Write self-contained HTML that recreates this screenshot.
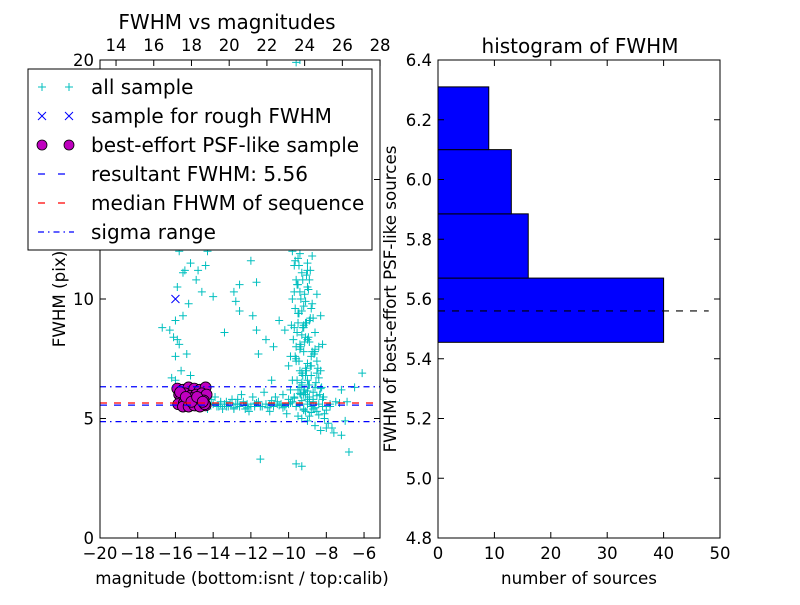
<!DOCTYPE html>
<html><head><meta charset="utf-8"><style>
body{margin:0;background:#fff}
svg text{font-family:"DejaVu Sans","Liberation Sans",sans-serif;fill:#000}
</style></head><body>
<svg id="c" width="800" height="600" xmlns="http://www.w3.org/2000/svg"></svg>
<script>
const allMag=[-14.0,-13.8,-13.6,-13.4,-13.2,-13.0,-12.8,-12.6,-12.4,-12.2,-12.0,-11.8,-11.6,-11.4,-11.2,-11.0,-10.8,-10.6,-10.4,-10.2,-10.0,-9.8,-9.6,-9.4,-9.2,-9.0,-8.8,-13.9,-12.5,-11.9,-11.3,-10.7,-10.3,-9.9,-13.5,-12.1,-11.0,-10.1,-9.5,-9.3,-9.0,-8.6,-8.3,-8.0,-7.6,-7.2,-6.8,-11.5,-9.6,-9.3,-7.0,-8.5,-8.2,-7.8,-6.1,-6.9,-14.3,-14.1,-13.7,-13.3,-12.9,-12.7,-12.3,
-9.5,-9.3,-9.1,-9.4,-9.0,-8.8,-9.2,-9.6,-8.9,-9.3,-9.7,-9.1,-8.7,-9.5,-9.2,-9.8,-9.4,-9.0,-9.6,-9.3,-9.7,-9.5,-9.8,-9.2,-8.6,-8.4,-8.3,-8.5,-8.7,-8.9,-9.8,-10.0,-9.9,-8.4,-8.2,-8.6,-8.8,-10.2,-10.5,-10.8,-11.2,-11.7,-10.9,-11.6,-9.0,-9.4,-8.5,-9.6,-9.4,-9.8,
-9.3,-9.1,-8.9,-9.6,-9.4,-9.0,-9.2,-9.5,-9.1,-9.7,-8.9,-9.4,-9.7,-9.0,-8.7,-8.6,-8.3,-8.1,-12.0,-11.7,-7.2,-6.5,
-9.2,-9.0,-8.8,-9.4,-9.1,-8.9,-9.3,-9.5,-9.0,-8.8,-9.6,-9.2,-8.7,-9.1,-9.3,
-16.3,-16.1,-15.9,-15.8,-16.0,-15.7,-16.2,-16.0,-15.2,-15.4,-16.7,-15.9,-15.6,-15.5,-15.2,-14.8,-14.4,-14.6,-14.9,-16.0,-14.3,-15.8,-13.4,-12.8,-12.6,-12.6,-12.9,-14.0,-11.9,-15.3,-15.6,
-9.35,-9.15,-8.95,-9.55,-9.25,-9.05,-8.85,-9.45,-9.65,-8.75,-9.35,-9.15,-8.95,-9.55,-9.25,-9.05,-8.85,-9.45,-9.65,-8.75,-9.35,-9.15,-8.95,-9.55,-9.25,-9.05,-8.85,-9.45,-9.65,-8.75,-8.55,-8.45,-8.65,-9.75,-9.85,-8.35,-8.25,-8.15,-8.5,-8.6,
-13.1,-12.9,-12.3,-11.7,-11.1,-10.5,-10.9,-10.3,-9.9,-11.5,-12.7,-13.3,-10.0,-9.7,-9.3,-8.9,-8.6,-8.4,-8.2,-8.0,-7.8,-7.5,-7.3,-9.1,-8.8,-8.4,-8.1,-7.9,-7.7,-10.6,-11.8,-12.2,-13.6,-8.9,-8.7,-9.2,-8.5,-9.4,-9.0,-8.3];
const allFwhm=[5.6,5.5,5.7,5.6,5.5,5.8,5.6,5.5,5.7,5.6,5.5,5.6,5.7,5.5,5.6,5.6,5.5,5.7,5.6,5.5,5.6,5.7,5.5,5.6,5.4,5.6,5.5,5.9,6.0,5.9,6.1,5.9,6.0,6.2,5.4,5.3,5.3,5.2,5.1,5.0,4.9,4.7,4.5,4.6,4.4,4.3,3.6,3.3,3.1,3.0,4.9,5.3,5.5,5.6,6.9,5.7,5.4,5.8,5.5,5.7,5.4,5.8,5.4,
6.2,6.5,6.8,7.0,7.3,7.6,7.8,8.0,8.2,8.5,8.8,9.0,9.2,9.4,9.7,10.0,10.3,10.5,10.8,11.1,11.4,11.7,12.0,6.0,6.3,6.7,7.0,7.4,6.1,5.9,6.6,7.2,7.6,8.0,8.1,8.6,9.6,8.7,9.1,8.0,8.3,8.7,6.6,7.7,11.2,11.9,10.2,19.9,20.0,12.5,
6.9,7.1,6.4,7.5,8.1,8.3,8.8,9.0,9.9,10.3,10.8,6.3,5.9,5.8,5.7,7.8,9.3,5.2,11.6,10.7,6.2,6.3,
6.1,6.6,7.2,7.9,8.4,9.1,9.5,10.6,11.5,6.8,7.4,8.9,5.8,6.0,6.4,
8.7,8.4,8.3,8.1,7.6,7.0,6.7,6.6,6.8,7.7,8.8,10.5,11.1,11.2,11.5,11.2,11.4,10.3,10.8,9.1,12.0,12.0,8.6,9.9,9.5,10.6,10.3,10.1,9.3,9.8,9.3,
6.0,6.2,6.4,6.6,6.8,7.0,7.2,7.4,7.6,7.8,8.0,8.2,8.4,8.6,8.8,9.0,9.2,9.4,9.6,9.8,10.0,10.2,10.4,10.6,10.8,11.0,11.2,11.4,11.6,11.8,6.5,7.1,7.7,8.3,8.9,6.0,6.3,5.9,6.9,7.9,
5.65,5.45,5.55,5.65,5.45,5.55,5.75,5.45,5.65,5.5,5.6,5.5,5.8,5.85,5.75,5.7,5.45,5.6,5.8,5.35,5.5,5.7,5.65,5.3,5.25,5.15,5.0,4.8,4.6,5.6,5.5,5.45,5.6,5.1,5.4,5.35,5.95,6.05,6.15,6.25];
const roughMag=[-16.0], roughFwhm=[10.0];
const psfMag=[-15.9,-15.6,-15.3,-15.0,-14.7,-14.4,-15.8,-15.5,-15.2,-14.9,-14.6,-14.35,-15.7,-15.4,-15.1,-14.8,-14.5,-15.85,-15.55,-15.25,-14.95,-14.65,-14.4,-15.6,-15.3,-15.0,-14.7,-14.45,-15.75,-15.45,-15.15,-14.85,-14.55];
const psfFwhm=[6.25,6.2,6.3,6.25,6.2,6.3,6.0,6.05,5.95,6.0,6.05,6.0,5.8,5.75,5.85,5.8,5.75,5.6,5.65,5.6,5.55,5.6,5.55,5.5,5.5,5.55,5.5,5.6,6.1,5.9,5.7,5.9,5.7];
const resultant=5.56, median=5.65, sigLo=4.87, sigHi=6.33;
const binEdges=[5.455,5.67,5.885,6.1,6.31];
const binCounts=[40,16,13,9];
const lxTicks=[-20,-18,-16,-14,-12,-10,-8,-6], lyTicks=[0,5,10,15,20];
const topTicks=[14,16,18,20,22,24,26,28];
const rxTicks=[0,10,20,30,40,50], ryTicks=[4.8,5.0,5.2,5.4,5.6,5.8,6.0,6.2,6.4];

const S=document.getElementById('c'),NS='http://www.w3.org/2000/svg';
function el(t,a,p){const e=document.createElementNS(NS,t);for(const k in a)e.setAttribute(k,a[k]);(p||S).appendChild(e);return e;}
function tx(s,a,p){const e=el('text',a,p);e.textContent=s;return e;}
const FS=16.5;
const lx=m=>100+(m+20)*18.86, ly=f=>538-f*23.9, tx2=c=>lx(c-33.15);
const gL=el('g',{});
const clip=el('clipPath',{id:'cl'});el('rect',{x:100,y:60,width:280,height:478},clip);
const pts=el('g',{'clip-path':'url(#cl)'},gL);
allMag.forEach((m,i)=>{const x=lx(m),y=ly(allFwhm[i]);const p=el('path',{d:`M${x-4},${y}h8M${x},${y-4}v8`,stroke:'#00bfbf','stroke-width':1},pts);});
roughMag.forEach((m,i)=>{const x=lx(m),y=ly(roughFwhm[i]);const p=el('path',{d:`M${x-4},${y-4}l8,8M${x+4},${y-4}l-8,8`,stroke:'#0000ff','stroke-width':1},pts);});
psfMag.forEach((m,i)=>{const c=el('circle',{cx:lx(m),cy:ly(psfFwhm[i]),r:5.5,fill:'#bf00bf',stroke:'#000','stroke-width':0.8},pts);});
function hl(v,col,dash,name){const l=el('line',{x1:100,x2:380,y1:ly(v),y2:ly(v),stroke:col,'stroke-width':1.3,'stroke-dasharray':dash},pts);}
hl(sigHi,'#0000ff','6,4,1.5,4','sigma-upper-line');hl(sigLo,'#0000ff','6,4,1.5,4','sigma-lower-line');
hl(median,'#ff0000','7,7','median-fwhm-line');hl(resultant,'#0000ff','7,7','resultant-fwhm-line');
el('rect',{x:100,y:60,width:280,height:478,fill:'none',stroke:'#000'},gL);
lxTicks.forEach(t=>{const x=lx(t);el('line',{x1:x,x2:x,y1:538,y2:532,stroke:'#000'},gL);const e=tx('\u2212'+Math.abs(t),{x:x,y:559,'font-size':FS,'text-anchor':'middle'},gL);});
topTicks.forEach(t=>{const x=tx2(t);el('line',{x1:x,x2:x,y1:60,y2:66,stroke:'#000'},gL);const e=tx(String(t),{x:x,y:51,'font-size':FS,'text-anchor':'middle'},gL);});
lyTicks.forEach(t=>{const y=ly(t);el('line',{x1:100,x2:106,y1:y,y2:y,stroke:'#000'},gL);el('line',{x1:374,x2:380,y1:y,y2:y,stroke:'#000'},gL);const e=tx(String(t),{x:94,y:y+6,'font-size':FS,'text-anchor':'end'},gL);});
let e=tx('FWHM vs magnitudes',{x:227,y:29,'font-size':20,'text-anchor':'middle'});
e=tx('magnitude (bottom:isnt / top:calib)',{x:242,y:584,'font-size':16.7,'text-anchor':'middle'});
e=tx('FWHM (pix)',{x:0,y:0,'font-size':16.7,'text-anchor':'middle',transform:'translate(65,299) rotate(-90)'});
const lg=el('g',{});
el('rect',{x:28,y:69,width:344,height:181,fill:'#fff',stroke:'#000'},lg);
const labels=['all sample','sample for rough FWHM','best-effort PSF-like sample','resultant FWHM: 5.56','median FHWM of sequence','sigma range'];
labels.forEach((s,i)=>{const y=87+i*29;const g=el('g',{},lg);
 if(i==0)[42,69].forEach(x=>el('path',{d:`M${x-4},${y}h8M${x},${y-4}v8`,stroke:'#00bfbf'},g));
 if(i==1)[42,69].forEach(x=>el('path',{d:`M${x-4},${y-4}l8,8M${x+4},${y-4}l-8,8`,stroke:'#0000ff'},g));
 if(i==2)[42,69].forEach(x=>el('circle',{cx:x,cy:y,r:5,fill:'#bf00bf',stroke:'#000','stroke-width':0.8},g));
 if(i==3)el('line',{x1:38,x2:74,y1:y,y2:y,stroke:'#0000ff','stroke-width':1.3,'stroke-dasharray':'7,13'},g);
 if(i==4)el('line',{x1:38,x2:74,y1:y,y2:y,stroke:'#ff0000','stroke-width':1.3,'stroke-dasharray':'7,13'},g);
 if(i==5)el('line',{x1:38,x2:74,y1:y,y2:y,stroke:'#0000ff','stroke-width':1.3,'stroke-dasharray':'6,4,1.5,4'},g);
 tx(s,{x:91,y:y+7,'font-size':20},g);});
const rx=v=>438+v*(282/50), ry=v=>538-(v-4.8)*(478/1.6);
const gR=el('g',{});
binCounts.forEach((c,i)=>{const y1=ry(binEdges[i+1]),y0=ry(binEdges[i]);const r=el('rect',{x:rx(0),y:y1,width:rx(c)-rx(0),height:y0-y1,fill:'#0000ff',stroke:'#000'},gR);});
const ml=el('line',{x1:rx(0),x2:rx(48),y1:ry(resultant),y2:ry(resultant),stroke:'#000','stroke-width':1.2,'stroke-dasharray':'7,7'},gR);
el('rect',{x:438,y:60,width:282,height:478,fill:'none',stroke:'#000'},gR);
rxTicks.forEach(t=>{const x=rx(t);el('line',{x1:x,x2:x,y1:538,y2:532,stroke:'#000'},gR);el('line',{x1:x,x2:x,y1:60,y2:66,stroke:'#000'},gR);const e=tx(String(t),{x:x,y:559,'font-size':FS,'text-anchor':'middle'},gR);});
ryTicks.forEach(t=>{const y=ry(t);el('line',{x1:438,x2:444,y1:y,y2:y,stroke:'#000'},gR);el('line',{x1:714,x2:720,y1:y,y2:y,stroke:'#000'},gR);const e=tx(t.toFixed(1),{x:432,y:y+6,'font-size':FS,'text-anchor':'end'},gR);});
e=tx('histogram of FWHM',{x:580,y:53,'font-size':20,'text-anchor':'middle'});
e=tx('number of sources',{x:579,y:584,'font-size':16.7,'text-anchor':'middle'});
e=tx('FWHM of best-effort PSF-like sources',{x:0,y:0,'font-size':16.7,'text-anchor':'middle',transform:'translate(396,299) rotate(-90)'});
</script>
</body></html>
